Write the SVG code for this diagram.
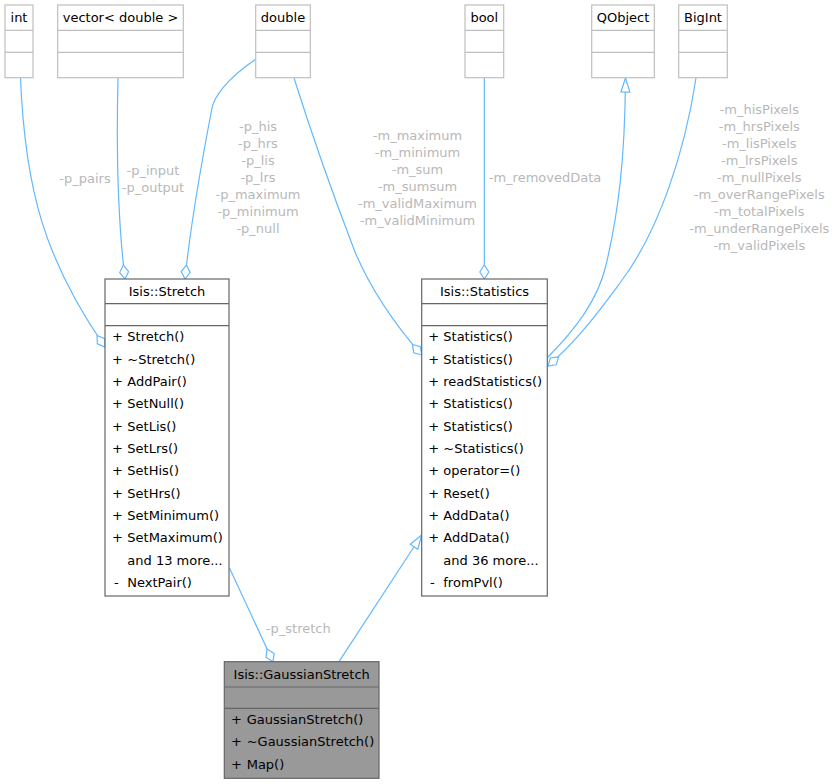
<svg xmlns="http://www.w3.org/2000/svg" width="835" height="784" viewBox="0 0 835 784">
<style>
text{font-family:"DejaVu Sans","Liberation Sans",sans-serif;font-size:13px;fill:#000}
.c{text-anchor:middle}
.lbl{fill:#b8b8b8;text-anchor:middle}
.ext{fill:#fff;stroke:#bfbfbf;stroke-width:1.2}
.cls{fill:#fff;stroke:#666;stroke-width:1.2}
.cur{fill:#999;stroke:#666;stroke-width:1.2}
.e{fill:none;stroke:#63b8ff;stroke-width:1.2}
</style>
<defs>
<marker id="dia" markerUnits="userSpaceOnUse" markerWidth="17" markerHeight="11" refX="15" refY="5" orient="auto" overflow="visible">
<path d="M1,5 L8,0.5 L15,5 L8,9.5 Z" fill="#fff" stroke="#63b8ff" stroke-width="1.2"/>
</marker>
<marker id="tri" markerUnits="userSpaceOnUse" markerWidth="17" markerHeight="11" refX="15" refY="5" orient="auto" overflow="visible">
<path d="M1,0.5 L15,5 L1,9.5 Z" fill="#fff" stroke="#63b8ff" stroke-width="1.2"/>
</marker>
</defs>

<g id="connectors">
<path class="e" d="M20.5,78 C25,190 45,260 105,347" marker-end="url(#dia)"/>
<path class="e" d="M118,78 C116,160 119,230 125,279" marker-end="url(#dia)"/>
<path class="e" d="M256,59 C225,80 214,98 212,108 C202,160 191,220 185,279" marker-end="url(#dia)"/>
<path class="e" d="M294,78 C312,135 335,200 355,252 C372,292 398,328 421.7,355" marker-end="url(#dia)"/>
<path class="e" d="M484.3,78 L484.3,279" marker-end="url(#dia)"/>
<path class="e" d="M547,358 C575,330 598,300 606,265 C618,215 625,160 625.5,78" marker-end="url(#tri)"/>
<path class="e" d="M696,78 C685,150 660,230 620,283 C600,310 578,340 548,366" marker-end="url(#dia)"/>
<path class="e" d="M229.5,568 L273,661.7" marker-end="url(#dia)"/>
<path class="e" d="M339,661.7 L421.7,535" marker-end="url(#tri)"/>
<text class="lbl" x="85" y="182.5">-p_pairs</text>
<text class="lbl" x="153" y="174.5">-p_input</text>
<text class="lbl" x="153" y="191.5">-p_output</text>
<text class="lbl" x="258" y="131">-p_his</text>
<text class="lbl" x="258" y="148">-p_hrs</text>
<text class="lbl" x="258" y="165">-p_lis</text>
<text class="lbl" x="258" y="182">-p_lrs</text>
<text class="lbl" x="258" y="199">-p_maximum</text>
<text class="lbl" x="258" y="216">-p_minimum</text>
<text class="lbl" x="258" y="233">-p_null</text>
<text class="lbl" x="417.5" y="140">-m_maximum</text>
<text class="lbl" x="417.5" y="157">-m_minimum</text>
<text class="lbl" x="417.5" y="174">-m_sum</text>
<text class="lbl" x="417.5" y="191">-m_sumsum</text>
<text class="lbl" x="417.5" y="208">-m_validMaximum</text>
<text class="lbl" x="417.5" y="225">-m_validMinimum</text>
<text class="lbl" x="545" y="182">-m_removedData</text>
<text class="lbl" x="759.3" y="114">-m_hisPixels</text>
<text class="lbl" x="759.3" y="131">-m_hrsPixels</text>
<text class="lbl" x="759.3" y="148">-m_lisPixels</text>
<text class="lbl" x="759.3" y="165">-m_lrsPixels</text>
<text class="lbl" x="759.3" y="182">-m_nullPixels</text>
<text class="lbl" x="759.3" y="199">-m_overRangePixels</text>
<text class="lbl" x="759.3" y="216">-m_totalPixels</text>
<text class="lbl" x="759.3" y="233">-m_underRangePixels</text>
<text class="lbl" x="759.3" y="250">-m_validPixels</text>
<text class="lbl" x="298.3" y="633">-p_stretch</text>
</g>

<g id="int">
<rect class="ext" x="5" y="5" width="28" height="72.7"/>
<line class="ext" x1="5" y1="30.3" x2="33" y2="30.3"/>
<line class="ext" x1="5" y1="52.3" x2="33" y2="52.3"/>
<text class="c" x="19" y="22">int</text>
</g>
<g id="vector_double">
<rect class="ext" x="57.7" y="5" width="125.6" height="72.7"/>
<line class="ext" x1="57.7" y1="30.3" x2="183.3" y2="30.3"/>
<line class="ext" x1="57.7" y1="52.3" x2="183.3" y2="52.3"/>
<text class="c" x="120.5" y="22">vector&lt; double &gt;</text>
</g>
<g id="double">
<rect class="ext" x="255.7" y="5" width="54.6" height="72.7"/>
<line class="ext" x1="255.7" y1="30.3" x2="310.3" y2="30.3"/>
<line class="ext" x1="255.7" y1="52.3" x2="310.3" y2="52.3"/>
<text class="c" x="283" y="22">double</text>
</g>
<g id="bool">
<rect class="ext" x="465" y="5" width="38.7" height="72.7"/>
<line class="ext" x1="465" y1="30.3" x2="503.7" y2="30.3"/>
<line class="ext" x1="465" y1="52.3" x2="503.7" y2="52.3"/>
<text class="c" x="484.3" y="22">bool</text>
</g>
<g id="QObject">
<rect class="ext" x="591.7" y="5" width="62.6" height="72.7"/>
<line class="ext" x1="591.7" y1="30.3" x2="654.3" y2="30.3"/>
<line class="ext" x1="591.7" y1="52.3" x2="654.3" y2="52.3"/>
<text class="c" x="623" y="22">QObject</text>
</g>
<g id="BigInt">
<rect class="ext" x="678.7" y="5" width="48.6" height="72.7"/>
<line class="ext" x1="678.7" y1="30.3" x2="727.3" y2="30.3"/>
<line class="ext" x1="678.7" y1="52.3" x2="727.3" y2="52.3"/>
<text class="c" x="703" y="22">BigInt</text>
</g>

<g id="Isis_Stretch">
<rect class="cls" x="105" y="279" width="124" height="317"/>
<line class="cls" x1="105" y1="303.7" x2="229" y2="303.7"/>
<line class="cls" x1="105" y1="325.7" x2="229" y2="325.7"/>
<text class="c" x="167" y="296">Isis::Stretch</text>
<text x="112" y="341.2">+</text><text x="127.3" y="341.2">Stretch()</text>
<text x="112" y="363.5">+</text><text x="127.3" y="363.5">~Stretch()</text>
<text x="112" y="385.9">+</text><text x="127.3" y="385.9">AddPair()</text>
<text x="112" y="408.2">+</text><text x="127.3" y="408.2">SetNull()</text>
<text x="112" y="430.5">+</text><text x="127.3" y="430.5">SetLis()</text>
<text x="112" y="452.9">+</text><text x="127.3" y="452.9">SetLrs()</text>
<text x="112" y="475.2">+</text><text x="127.3" y="475.2">SetHis()</text>
<text x="112" y="497.5">+</text><text x="127.3" y="497.5">SetHrs()</text>
<text x="112" y="519.9">+</text><text x="127.3" y="519.9">SetMinimum()</text>
<text x="112" y="542.2">+</text><text x="127.3" y="542.2">SetMaximum()</text>
<text x="127.3" y="564.5">and 13 more...</text>
<text x="114" y="586.9">-</text><text x="127.3" y="586.9">NextPair()</text>
</g>

<g id="Isis_Statistics">
<rect class="cls" x="421.7" y="279" width="125.6" height="317"/>
<line class="cls" x1="421.7" y1="303.7" x2="547.3" y2="303.7"/>
<line class="cls" x1="421.7" y1="325.7" x2="547.3" y2="325.7"/>
<text class="c" x="484.5" y="296">Isis::Statistics</text>
<text x="428.3" y="341.2">+</text><text x="443.3" y="341.2">Statistics()</text>
<text x="428.3" y="363.5">+</text><text x="443.3" y="363.5">Statistics()</text>
<text x="428.3" y="385.9">+</text><text x="443.3" y="385.9">readStatistics()</text>
<text x="428.3" y="408.2">+</text><text x="443.3" y="408.2">Statistics()</text>
<text x="428.3" y="430.5">+</text><text x="443.3" y="430.5">Statistics()</text>
<text x="428.3" y="452.9">+</text><text x="443.3" y="452.9">~Statistics()</text>
<text x="428.3" y="475.2">+</text><text x="443.3" y="475.2">operator=()</text>
<text x="428.3" y="497.5">+</text><text x="443.3" y="497.5">Reset()</text>
<text x="428.3" y="519.9">+</text><text x="443.3" y="519.9">AddData()</text>
<text x="428.3" y="542.2">+</text><text x="443.3" y="542.2">AddData()</text>
<text x="443.3" y="564.5">and 36 more...</text>
<text x="430" y="586.9">-</text><text x="443.3" y="586.9">fromPvl()</text>
</g>

<g id="Isis_GaussianStretch">
<rect class="cur" x="224.3" y="661.7" width="154.7" height="116.6"/>
<line class="cur" x1="224.3" y1="687" x2="379" y2="687"/>
<line class="cur" x1="224.3" y1="708.3" x2="379" y2="708.3"/>
<text class="c" x="301.7" y="679">Isis::GaussianStretch</text>
<text x="231" y="723.5">+</text><text x="246.7" y="723.5">GaussianStretch()</text>
<text x="231" y="746">+</text><text x="246.7" y="746">~GaussianStretch()</text>
<text x="231" y="768.5">+</text><text x="246.7" y="768.5">Map()</text>
</g>
</svg>
